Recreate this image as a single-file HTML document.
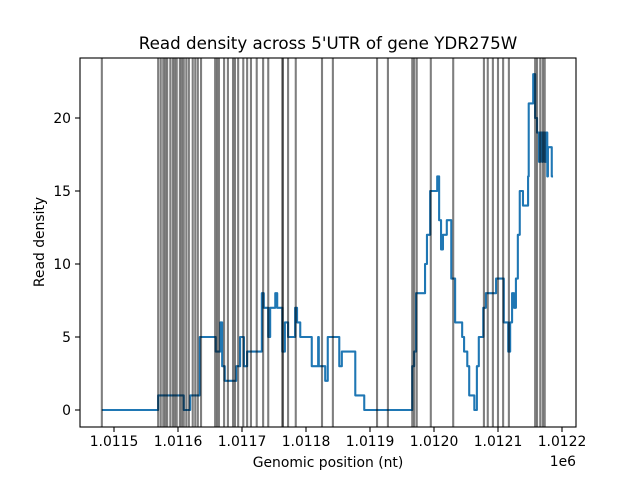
<!DOCTYPE html>
<html><head><meta charset="utf-8"><style>
body{margin:0;background:#fff}
svg text{font-family:"DejaVu Sans","Liberation Sans",sans-serif;fill:#000}
</style></head><body>
<svg id="chart" width="640" height="480" viewBox="0 0 640 480">
<rect width="640" height="480" fill="#fff"/>
<text x="328" y="49" font-size="16.7" text-anchor="middle">Read density across 5'UTR of gene YDR275W</text>
<g id="series"></g>
<g id="vlines"></g>
<rect x="80" y="58" width="496" height="369" fill="none" stroke="#000" stroke-width="1.1"/>
<g id="axes"></g>
<text x="328" y="467" font-size="13.9" text-anchor="middle">Genomic position (nt)</text>
<text x="44" y="242" font-size="13.9" text-anchor="middle" transform="rotate(-90 44 242)">Read density</text>
<text x="576" y="466" font-size="13.9" text-anchor="end">1e6</text>
</svg>
<script>
const positions=[1011481,1011569,1011609,1011619,1011634,1011659,1011666,1011669,1011673,1011691,1011697,1011703,1011708,1011731,1011734,1011741,1011744,1011752,1011755,1011763,1011767,1011772,1011783,1011786,1011791,1011809,1011819,1011820,1011830,1011834,1011852,1011856,1011877,1011891,1011966,1011969,1011972,1011986,1011989,1011994,1012005,1012008,1012011,1012014,1012020,1012027,1012033,1012044,1012047,1012052,1012055,1012063,1012067,1012070,1012077,1012081,1012097,1012109,1012116,1012119,1012122,1012125,1012128,1012131,1012134,1012139,1012147,1012148,1012155,1012158,1012161,1012164,1012166,1012169,1012170,1012173,1012175,1012177,1012178,1012184,1012186];
const densities=[0,1,0,1,5,4,6,3,2,3,5,3,4,8,7,5,7,8,7,4,6,5,7,6,5,3,5,3,2,5,3,4,1,0,3,4,8,10,12,15,16,13,11,12,13,9,6,5,4,3,1,0,3,5,7,8,9,6,4,6,8,7,9,12,15,14,16,21,23,20,19,17,19,17,19,17,19,16,18,16,16];
const sitePositions=[1011481,1011569,1011573,1011577,1011580,1011583,1011588,1011592,1011595,1011598,1011603,1011606,1011609,1011613,1011617,1011623,1011627,1011631,1011636,1011658,1011661,1011664,1011672,1011678,1011686,1011689,1011694,1011702,1011708,1011714,1011723,1011733,1011741,1011763,1011764,1011772,1011784,1011825,1011842,1011911,1011928,1011966,1011969,1011973,1011995,1012030,1012078,1012084,1012092,1012100,1012108,1012117,1012158,1012161,1012166,1012170,1012173];
const xTicks=[1011500,1011600,1011700,1011800,1011900,1012000,1012100,1012200];
const xTickLabels=["1.0115","1.0116","1.0117","1.0118","1.0119","1.0120","1.0121","1.0122"];
const yTicks=[0,5,10,15,20];
const X=v=>114+(v-1011500)*0.64;
const Y=v=>410-v*14.6;
const NS="http://www.w3.org/2000/svg";
function mk(t,a,p){const e=document.createElementNS(NS,t);for(const k in a)e.setAttribute(k,a[k]);p.appendChild(e);return e;}
let d="";
for(let i=0;i<positions.length;i++){
  const x=X(positions[i]),y=Y(densities[i]);
  if(i===0)d+=`M${x},${y}`;else d+=`V${y}H${x}`;
  if(i<positions.length-1)d+=`H${X(positions[i+1])}`;
}
const path=mk("path",{d:d,fill:"none",stroke:"#1f77b4","stroke-width":2.1,"stroke-linejoin":"round"},document.getElementById("series"));


const vg=document.getElementById("vlines");
sitePositions.forEach(p=>{
  const l=mk("line",{x1:X(p),x2:X(p),y1:58,y2:427,stroke:"#000","stroke-opacity":0.5,"stroke-width":2.1},vg);
  
  
});
const ag=document.getElementById("axes");
xTicks.forEach((t,i)=>{
  const x=X(t);
  const tk=mk("line",{x1:x,x2:x,y1:427,y2:432,stroke:"#000","stroke-width":1.1},ag);
  
  
  const tx=mk("text",{x:x,y:446,"font-size":13.9,"text-anchor":"middle"},ag);
  tx.textContent=xTickLabels[i];
  
  
});
yTicks.forEach(t=>{
  const y=Y(t);
  const tk=mk("line",{x1:75,x2:80,y1:y,y2:y,stroke:"#000","stroke-width":1.1},ag);
  
  
  const tx=mk("text",{x:71,y:y+5,"font-size":13.9,"text-anchor":"end"},ag);
  tx.textContent=String(t);
  
  
});
</script>
</body></html>
